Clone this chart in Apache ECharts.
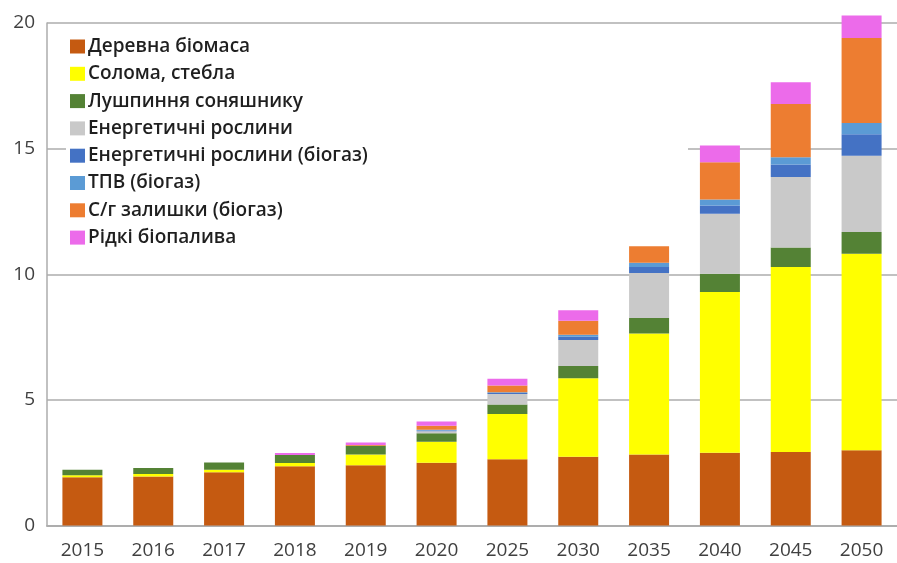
<!DOCTYPE html>
<html>
<head>
<meta charset="utf-8">
<script src="https://cdn.jsdelivr.net/npm/echarts@6/dist/echarts.min.js"></script>
<style>
html,body{margin:0;padding:0;background:#fff;}
#chart{width:897px;height:563px;}
</style>
</head>
<body>
<div id="chart"></div>
<script>
const years = ['2015','2016','2017','2018','2019','2020','2025','2030','2035','2040','2045','2050'];
const yTicks = [0, 5, 10, 15, 20];
const seriesNames = ['Деревна біомаса','Солома, стебла','Лушпиння соняшнику','Енергетичні рослини','Енергетичні рослини (біогаз)','ТПВ (біогаз)','С/г залишки (біогаз)','Рідкі біопалива'];
const wood = [1.92, 1.95, 2.12, 2.36, 2.40, 2.50, 2.64, 2.74, 2.83, 2.90, 2.93, 3.00];
const straw = [0.08, 0.10, 0.10, 0.13, 0.43, 0.83, 1.80, 3.12, 4.81, 6.39, 7.36, 7.82];
const husk = [0.22, 0.24, 0.29, 0.32, 0.34, 0.34, 0.38, 0.49, 0.62, 0.73, 0.77, 0.86];
const energyCrops = [0, 0, 0, 0, 0, 0.08, 0.41, 1.03, 1.79, 2.39, 2.81, 3.04];
const energyBiogas = [0, 0, 0, 0, 0, 0.03, 0.04, 0.13, 0.24, 0.33, 0.50, 0.85];
const msw = [0, 0, 0, 0, 0, 0.03, 0.03, 0.08, 0.17, 0.24, 0.29, 0.45];
const agriResidue = [0, 0, 0, 0, 0.03, 0.16, 0.27, 0.56, 0.65, 1.48, 2.12, 3.38];
const liquid = [0, 0, 0, 0.08, 0.10, 0.17, 0.27, 0.42, 0, 0.66, 0.86, 0.90];
const colors = ['#C55A11','#FFFF00','#548235','#C9C9C9','#4472C4','#5B9BD5','#ED7D31','#EC6BEA'];

const dataSets = [wood, straw, husk, energyCrops, energyBiogas, msw, agriResidue, liquid];
const font = '"Open Sans", "Noto Sans", sans-serif';

const chart = echarts.init(document.getElementById('chart'), null, {renderer:'canvas'});
chart.setOption({
  animation: false,
  color: colors,
  grid: {left: 47, top: 23, bottom: 37.5, width: 859, containLabel: false},
  graphic: [{
    type: 'rect', z: 1,
    shape: {x: 66, y: 30, width: 622, height: 225},
    style: {fill: '#ffffff'}
  }],
  legend: {
    orient: 'vertical', left: 66, top: 29, padding: [8, 4, 8, 4],
    itemWidth: 15, itemHeight: 14, itemGap: 8.3,
    icon: 'rect',
    z: 5,
    textStyle: {fontFamily: font, fontSize: 19, fontWeight: 600, color: '#1f1f1f', padding: [0,0,0,-2], lineHeight: 19},
    data: seriesNames
  },
  xAxis: {
    type: 'category', data: years,
    axisLine: {show: true, lineStyle: {color: '#ADADAD', width: 2}},
    axisTick: {show: false},
    axisLabel: {fontFamily: font, fontSize: 19, color: '#404040', margin: 16}
  },
  yAxis: {
    type: 'value', min: 0, max: 20, interval: 5,
    axisLine: {show: true, lineStyle: {color: '#ADADAD', width: 1.5}},
    axisTick: {show: false},
    splitLine: {lineStyle: {color: '#ADADAD', width: 1.5}},
    axisLabel: {fontFamily: font, fontSize: 19, color: '#404040', margin: 12,
      formatter: v => yTicks.includes(v) ? String(v) : ''}
  },
  series: seriesNames.map((n, i) => ({
    name: n, type: 'bar', stack: 'total', barWidth: 40, clip: false,
    data: dataSets[i],
    itemStyle: {color: colors[i]}
  }))
});
</script>
</body>
</html>
